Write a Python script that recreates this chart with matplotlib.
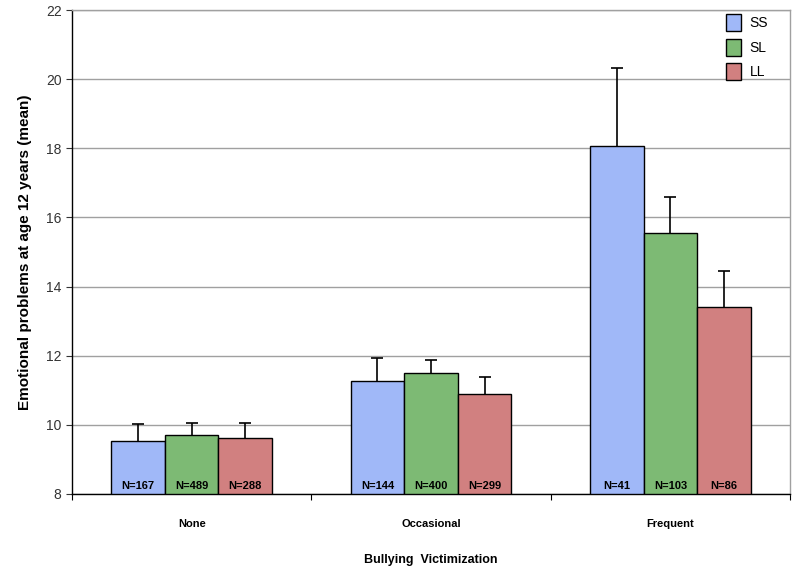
import numpy as np
import matplotlib
matplotlib.use("Agg")
import matplotlib.pyplot as plt

plt.rcParams['font.family'] = ['Liberation Sans', 'DejaVu Sans']

# ===== DATA =====
categories = ["None", "Occasional", "Frequent"]
groups = ["SS", "SL", "LL"]
means = {
    "SS": [9.52, 11.28, 18.08],
    "SL": [9.72, 11.50, 15.55],
    "LL": [9.62, 10.90, 13.40],
}
err_top = {
    "SS": [10.02, 11.92, 20.33],
    "SL": [10.05, 11.88, 16.60],
    "LL": [10.05, 11.38, 14.45],
}
n_labels = {
    "SS": ["N=167", "N=144", "N=41"],
    "SL": ["N=489", "N=400", "N=103"],
    "LL": ["N=288", "N=299", "N=86"],
}
colors = {"SS": "#A0B8F8", "SL": "#7DBA74", "LL": "#D18080"}

# ===== PLOT =====
fig = plt.figure(figsize=(8, 5.72), dpi=100)
ax = fig.add_axes([0.09, 0.1364, 0.8975, 0.8461])

x = np.arange(len(categories))
width = 0.224
ymin = 8

for i, g in enumerate(groups):
    pos = x + (i - 1) * width
    vals = np.array(means[g])
    up = np.array(err_top[g]) - vals
    ax.bar(pos, vals - ymin, width, bottom=ymin, color=colors[g],
           edgecolor='black', linewidth=1.0, label=g, zorder=3)
    eb = ax.errorbar(pos, vals, yerr=[np.zeros_like(up), up], fmt='none',
                     ecolor='black', elinewidth=1.2, capsize=4, capthick=1.2, zorder=2)
    # hide the lower caps, only the upper whisker is shown
    eb[1][0].set_visible(False)
    for p, lab in zip(pos, n_labels[g]):
        ax.text(p, ymin + 0.08, lab, ha='center', va='bottom',
                fontsize=8, fontweight='bold', zorder=5)

ax.set_xlim(-0.5, 2.5)
ax.set_ylim(8, 22)
ax.set_yticks(np.arange(8, 23, 2))
ax.yaxis.grid(True, color='#a0a0a0', linewidth=1.0, zorder=0)
ax.set_axisbelow(True)

# x ticks at category boundaries, labels at centres
ax.set_xticks([-0.5, 0.5, 1.5, 2.5])
ax.set_xticklabels([])
ax.set_xticks(x, minor=True)
ax.set_xticklabels(categories, minor=True, fontsize=8, fontweight='bold')
ax.tick_params(axis='x', which='minor', length=0, pad=18)
ax.tick_params(axis='x', which='major', length=4, direction='out')
ax.tick_params(axis='y', length=4, direction='out', labelsize=10, colors='#333333')

for s in ['left', 'bottom']:
    ax.spines[s].set_color('black')
    ax.spines[s].set_linewidth(1.0)
for s in ['top', 'right']:
    ax.spines[s].set_color('#a0a0a0')
    ax.spines[s].set_linewidth(1.0)

ax.set_ylabel('Emotional problems at age 12 years (mean)', fontsize=11,
              fontweight='bold', labelpad=10)
ax.set_xlabel('Bullying  Victimization', fontsize=9, fontweight='bold', labelpad=18)

leg = ax.legend(loc='upper right', bbox_to_anchor=(0.975, 1.0), fontsize=10,
                frameon=False, handlelength=1.1, handleheight=1.5,
                borderaxespad=0, borderpad=0.3, labelspacing=0.55, handletextpad=0.6)
for h in leg.legend_handles:
    h.set_edgecolor('black')

fig.savefig('out.png', dpi=100)
